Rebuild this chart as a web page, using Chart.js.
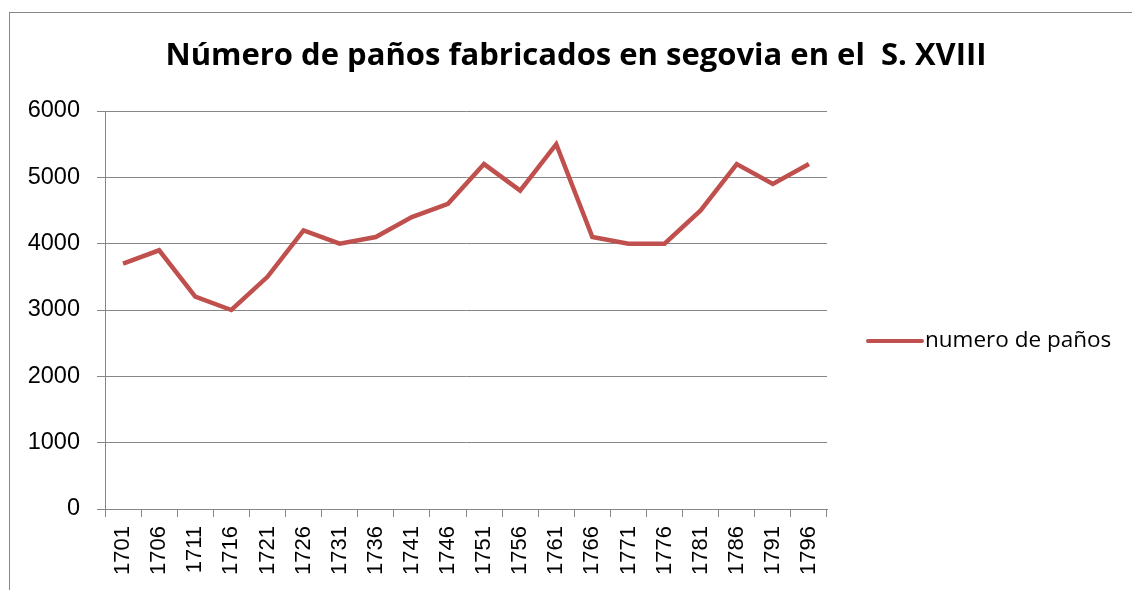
<!DOCTYPE html>
<html>
<head>
<meta charset="utf-8">
<script src="https://cdn.jsdelivr.net/npm/chart.js@4.4.0/dist/chart.umd.min.js"></script>
<style>
  body { margin: 0; background: #fff; }
  #wrap { position: relative; width: 1132px; height: 590px; overflow: hidden; }
  #frame { position: absolute; left: 9px; top: 12px; width: 2000px; height: 2000px;
           border-left: 1px solid #888; border-top: 1px solid #888; }
  canvas { position: absolute; left: 0; top: 0; }
</style>
</head>
<body>
<div id="wrap">
  <div id="frame"></div>
  <canvas id="panosChart" width="1132" height="590"></canvas>
</div>
<script>
// Data
const years = ["1701", "1706", "1711", "1716", "1721", "1726", "1731", "1736", "1741", "1746",
               "1751", "1756", "1761", "1766", "1771", "1776", "1781", "1786", "1791", "1796"];
const panos = [3700, 3900, 3200, 3000, 3500, 4200, 4000, 4100, 4400, 4600,
               5200, 4800, 5500, 4100, 4000, 4000, 4500, 5200, 4900, 5200];
const seriesName = "numero de paños";
const chartTitle = "Número de paños fabricados en segovia en el  S. XVIII";

const lineColor = "#C0504D";
const gridColor = "#868686";

// Title and legend drawn by hand, Excel style
const decorations = {
  id: "decorations",
  afterDraw(chart) {
    const ctx = chart.ctx;
    ctx.save();
    ctx.fillStyle = "#000";
    ctx.font = "bold 31px 'Open Sans'";
    ctx.textAlign = "center";
    ctx.textBaseline = "middle";
    ctx.fillText(chartTitle, 576, 56);

    // legend
    const ds = chart.data.datasets[0];
    const ly = 341;
    ctx.strokeStyle = ds.borderColor;
    ctx.lineWidth = 4;
    ctx.lineCap = "round";
    ctx.beginPath();
    ctx.moveTo(868, ly);
    ctx.lineTo(922, ly);
    ctx.stroke();
    ctx.font = "22.5px 'Open Sans'";
    ctx.textAlign = "left";
    ctx.fillText(ds.label, 925, ly);
    ctx.restore();
  },
};

new Chart(document.getElementById("panosChart"), {
  type: "line",
  data: {
    labels: years,
    datasets: [
      {
        label: seriesName,
        data: panos,
        borderColor: lineColor,
        backgroundColor: lineColor,
        borderWidth: 4.5,
        pointRadius: 0,
        tension: 0,
        fill: false,
      },
    ],
  },
  options: {
    responsive: false,
    animation: false,
    layout: {
      padding: { top: 111, right: 305, left: 0, bottom: 0 },
    },
    plugins: {
      legend: { display: false },
      title: { display: false },
      tooltip: { enabled: false },
    },
    scales: {
      x: {
        offset: true,
        afterFit(scale) {
          scale.height = 81;
        },
        grid: {
          offset: true,
          drawOnChartArea: false,
          drawTicks: true,
          tickLength: 8,
          color: gridColor,
        },
        border: { color: gridColor },
        ticks: {
          autoSkip: false,
          minRotation: 90,
          maxRotation: 90,
          padding: 9,
          color: "#000",
          font: { family: "'Liberation Sans'", size: 22 },
        },
      },
      y: {
        min: 0,
        max: 6000,
        afterFit(scale) {
          scale.width = 105;
        },
        grid: {
          color: gridColor,
          tickLength: 8,
        },
        border: { color: gridColor },
        ticks: {
          stepSize: 1000,
          padding: 17,
          color: "#000",
          font: { family: "'Liberation Sans'", size: 23.5 },
          callback: (value) => String(value),
        },
      },
    },
  },
  plugins: [decorations],
});
</script>
</body>
</html>
